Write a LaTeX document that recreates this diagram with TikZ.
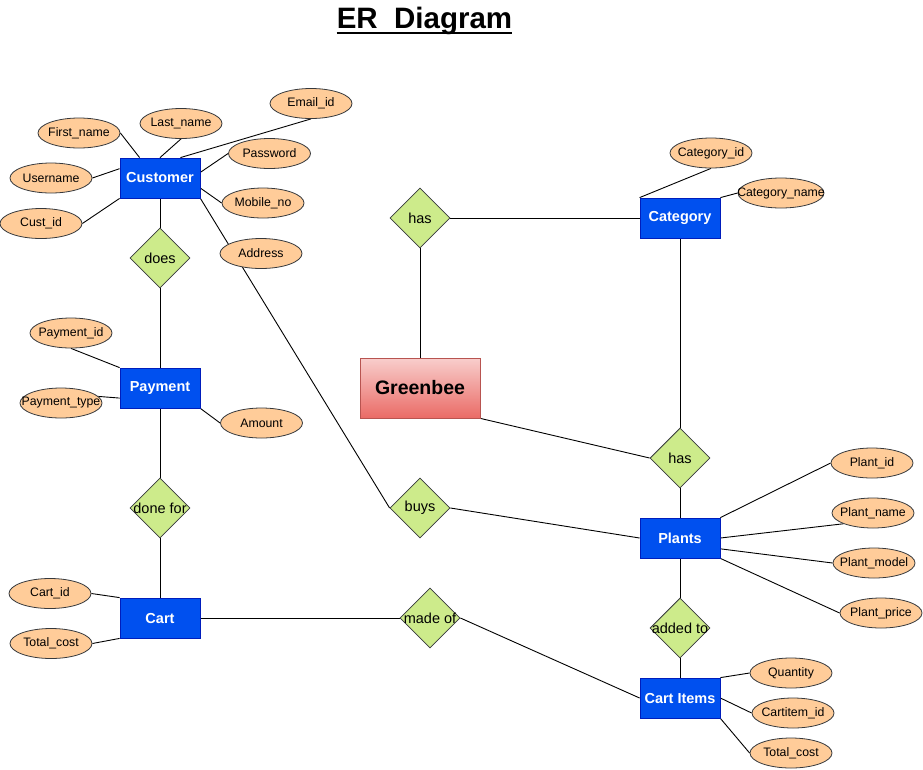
\documentclass[tikz,border=0pt]{standalone}
\usepackage{fontspec}
\setmainfont{Liberation Sans}
\usetikzlibrary{shapes.geometric}
\pgfdeclarelayer{paper}
\pgfdeclarelayer{background}
\pgfsetlayers{paper,background,main}
\definecolor{entfill}{HTML}{0050EF}
\definecolor{entdraw}{HTML}{001DBC}
\definecolor{attrfill}{HTML}{FFCC99}
\definecolor{attrdraw}{HTML}{36393D}
\definecolor{relfill}{HTML}{CDEB8B}
\definecolor{reldraw}{HTML}{36393D}
\definecolor{gbtop}{HTML}{F8CECC}
\definecolor{gbbot}{HTML}{EA6B66}
\definecolor{gbdraw}{HTML}{B85450}
\newcommand{\zw}[1]{\makebox[0pt]{#1}}
\begin{document}
\begin{tikzpicture}[x=1pt,y=-1pt,
  ent/.style={rectangle,draw=entdraw,line width=0.8pt,fill=entfill,text=white,
    font=\fontsize{14.5}{16}\selectfont\bfseries,minimum width=80pt,minimum height=40pt,inner sep=0pt},
  attr/.style={ellipse,draw=attrdraw,line width=0.8pt,fill=attrfill,minimum width=82pt,minimum height=30pt,
    inner sep=0pt,font=\fontsize{12.3}{14}\selectfont},
  rel/.style={diamond,aspect=1,draw=reldraw,line width=0.8pt,fill=relfill,minimum width=60pt,minimum height=60pt,
    inner sep=0pt,font=\fontsize{14.5}{16}\selectfont},
  link/.style={draw=black,line width=0.9pt}]
\useasboundingbox (0,0) rectangle (923,769);
\begin{pgfonlayer}{paper}
\fill[white] (0,0) rectangle (923,769);
\end{pgfonlayer}

% title
\node[anchor=base,inner sep=0pt,font=\fontsize{29.5}{32}\selectfont\bfseries] (title) at (424.5,28.3) {ER\ \ Diagram};
\draw[line width=2pt] ([yshift=-5pt]title.base west) -- ([yshift=-5pt]title.base east);

% entities
\node[ent] (cust) at (160,178) {Customer};
\node[ent] (pay) at (160,388) {Payment};
\node[ent] (cart) at (160,618) {Cart};
\node[ent] (cat) at (680,218) {Category};
\node[ent] (plants) at (680,538) {Plants};
\node[ent] (citems) at (680,698) {Cart Items};
\node[rectangle,draw=gbdraw,line width=0.8pt,top color=gbtop,bottom color=gbbot,minimum width=120pt,minimum height=60pt,
  inner sep=0pt,font=\fontsize{19.5}{22}\selectfont\bfseries] (gb) at (420,388) {Greenbee};

% relationships
\node[rel] (does) at (160,258) {\zw{does}};
\node[rel] (donefor) at (160,508) {\zw{done for}};
\node[rel] (has1) at (420,218) {\zw{has}};
\node[rel] (has2) at (680,458) {\zw{has}};
\node[rel] (buys) at (420,508) {\zw{buys}};
\node[rel] (madeof) at (430,618) {\zw{made of}};
\node[rel] (addedto) at (680,628) {\zw{added to}};

% attributes
\node[attr] (fname) at (79,133) {\zw{First\_name}};
\node[attr] (lname) at (181,123.5) {\zw{Last\_name}};
\node[attr] (email) at (311,103.5) {\zw{Email\_id}};
\node[attr] (uname) at (51,178) {\zw{Username}};
\node[attr] (pass) at (269.5,153.5) {\zw{Password}};
\node[attr] (custid) at (41,223.5) {\zw{Cust\_id}};
\node[attr] (mobile) at (263,203) {\zw{Mobile\_no}};
\node[attr] (addr) at (261,253.5) {\zw{Address}};
\node[attr] (payid) at (71,333) {\zw{Payment\_id}};
\node[attr] (paytype) at (61,403) {\zw{Payment\_type}};
\node[attr] (amount) at (261.5,423) {\zw{Amount}};
\node[attr] (cartid) at (50,593.5) {\zw{Cart\_id}};
\node[attr] (tcost1) at (51,643.5) {\zw{Total\_cost}};
\node[attr] (catid) at (711,153) {\zw{Category\_id}};
\node[attr,minimum width=86pt] (catname) at (781,193) {\zw{Category\_name}};
\node[attr] (plantid) at (872,463) {\zw{Plant\_id}};
\node[attr] (plantname) at (873,513) {\zw{Plant\_name}};
\node[attr] (plantmodel) at (874,563) {\zw{Plant\_model}};
\node[attr] (plantprice) at (881,613) {\zw{Plant\_price}};
\node[attr] (qty) at (791,673) {\zw{Quantity}};
\node[attr] (citemid) at (793,713) {\zw{Cartitem\_id}};
\node[attr] (tcost2) at (791,753) {\zw{Total\_cost}};

\begin{pgfonlayer}{background}
\draw[link] (fname.east) -- (cust.135);
\draw[link] (lname.south) -- (cust.north);
\draw[link] (email.south) -- (cust.45);
\draw[link] (uname.east) -- (cust.167);
\draw[link] (pass.west) -- (cust.8);
\draw[link] (custid.east) -- (cust.south west);
\draw[link] (mobile.west) -- (cust.-14);
\draw[link] (cust.south east) -- (buys.west);
\draw[link] (cust.south) -- (does.north);
\draw[link] (does.south) -- (pay.north);
\draw[link] (payid.south) -- (pay.north west);
\draw[link] (paytype.10) -- (pay.194);
\draw[link] (amount.west) -- (pay.south east);
\draw[link] (pay.south) -- (donefor.north);
\draw[link] (donefor.south) -- (cart.north);
\draw[link] (cartid.east) -- (cart.north west);
\draw[link] (tcost1.east) -- (cart.south west);
\draw[link] (cart.east) -- (madeof.west);
\draw[link] (madeof.east) -- (citems.west);
\draw[link] (has1.east) -- (cat.west);
\draw[link] (has1.south) -- (gb.north);
\draw[link] (catid.south) -- (cat.north west);
\draw[link] (catname.west) -- (cat.north east);
\draw[link] (cat.south) -- (has2.north);
\draw[link] (gb.south east) -- (has2.west);
\draw[link] (has2.south) -- (plants.north);
\draw[link] (buys.east) -- (plants.west);
\draw[link] (plantid.west) -- (plants.north east);
\draw[link] (plantname.200) -- (plants.east);
\draw[link] (plantmodel.west) -- (plants.-15);
\draw[link] (plantprice.west) -- (plants.south east);
\draw[link] (plants.south) -- (addedto.north);
\draw[link] (addedto.south) -- (citems.north);
\draw[link] (qty.west) -- (citems.north east);
\draw[link] (citemid.west) -- (citems.east);
\draw[link] (tcost2.west) -- (citems.south east);
\end{pgfonlayer}
\end{tikzpicture}
\end{document}
